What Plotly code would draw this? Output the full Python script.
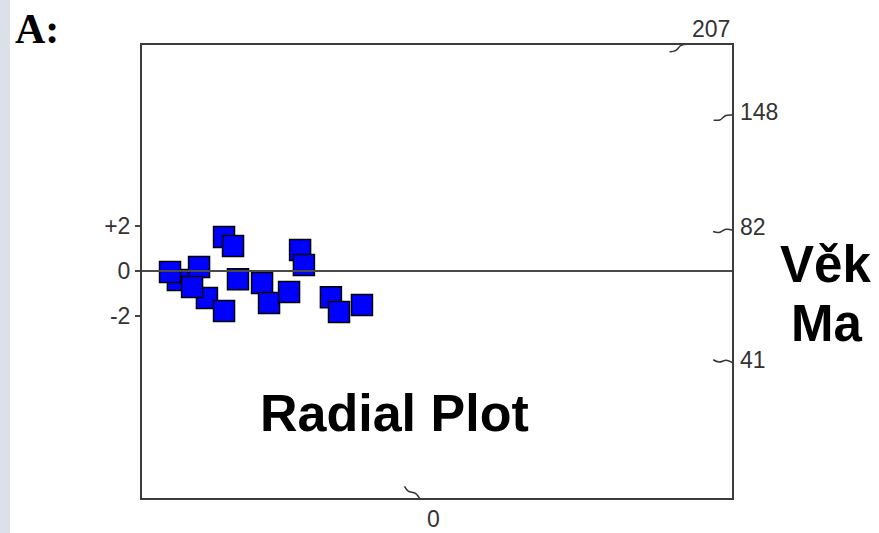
import numpy as np
import plotly.graph_objects as go

# Radial plot data: precision (x) and standardized estimate (y) of each grain
precision = [1.64, 1.29, 2.58, 2.93, 2.27, 3.69, 3.69, 4.09, 4.31,
             5.38, 5.69, 6.58, 7.07, 7.24, 8.44, 8.80, 9.82]
std_est = [-0.40, -0.04, 0.18, -1.20, -0.71, -1.78, 1.51, 1.11, -0.36,
           -0.53, -1.42, -0.93, 0.93, 0.27, -1.16, -1.82, -1.51]

# Age scale (Ma) along the border: label and slope of its radial line
age_labels = ["207", "148", "82", "41", "0"]
age_slopes = [0.415, 0.2635, 0.069, -0.155, -0.817]

# Standardized-estimate axis
y_ticks = [2, 0, -2]
y_ticktext = ["+2", "0", "-2"]

X_MAX = 26.31
Y_MIN, Y_MAX = -10.13, 10.09
W, H = 879, 533
ML, MR, MT, MB = 141, 146, 44, 34
PW, PH = W - ML - MR, H - MT - MB
PX = PW / X_MAX  # pixels per data unit
NUM_FONT = dict(family="Arial", size=23, color="#333333")

fig = go.Figure()

# radial age ticks where each line meets the frame
annotations = []
for lab, s in zip(age_labels, age_slopes):
    if Y_MIN <= s * X_MAX <= Y_MAX:
        ex, ey = X_MAX, s * X_MAX
        ann = dict(xanchor="left", yanchor="middle", xshift=5, yshift=3)
    elif s > 0:
        ex, ey = Y_MAX / s, Y_MAX
        ann = dict(xanchor="center", yanchor="middle", xshift=23, yshift=15)
    else:
        ex, ey = Y_MIN / s, Y_MIN
        ann = dict(xanchor="center", yanchor="middle", xshift=14, yshift=-20)
    n = np.hypot(1.0, s)
    ux, uy = -1.0 / n, -s / n
    px_, py_ = -uy, ux
    L = 20 / PX
    ts = [0.0, 0.35, 0.7, 1.0]
    ws = [0.0, -1.4 / PX, 1.4 / PX, 0.0]
    tx = [ex + ux * L * t + px_ * w for t, w in zip(ts, ws)]
    ty = [ey + uy * L * t + py_ * w for t, w in zip(ts, ws)]
    fig.add_trace(go.Scatter(x=tx, y=ty, mode="lines",
                             line=dict(color="#333333", width=1.5, shape="spline"),
                             hoverinfo="skip", showlegend=False, cliponaxis=False))
    annotations.append(dict(x=ex, y=ey, xref="x", yref="y", text=lab, showarrow=False,
                            font=NUM_FONT, **ann))

fig.add_trace(go.Scatter(
    x=precision, y=std_est, mode="markers",
    marker=dict(symbol="square", size=21, color="#0000ff",
                line=dict(color="#000000", width=1.5)),
    showlegend=False, cliponaxis=False))

shapes = [
    # grey strip along the left edge of the page
    dict(type="rect", xref="paper", yref="paper",
         x0=-ML / PW, x1=(10 - ML) / PW, y0=-MB / PH, y1=1 + MT / PH,
         fillcolor="#dbe1e6", line=dict(width=0), layer="below"),
    # zero line
    dict(type="line", xref="x", yref="y", x0=0, x1=X_MAX, y0=0, y1=0,
         line=dict(color="#4a4a4a", width=2)),
    # frame
    dict(type="rect", xref="paper", yref="paper", x0=0, x1=1, y0=0, y1=1,
         line=dict(color="#3c3c3c", width=2)),
]


def page_text(text, cx, cy, font):
    """Text centred on a page pixel position."""
    return dict(x=(cx - ML) / PW, y=(H - MB - cy) / PH, xref="paper", yref="paper",
                xanchor="center", yanchor="middle", text=text, showarrow=False,
                font=font)


annotations += [
    page_text("<b>A:</b>", 37, 29,
              dict(family="Liberation Serif", size=42, color="#000000")),
    page_text("<b>Radial Plot</b>", 394, 413,
              dict(family="Arial", size=52, color="#000000")),
    page_text("<b>Věk</b>", 825, 264,
              dict(family="Arial", size=51, color="#000000")),
    page_text("<b>Ma</b>", 826, 323,
              dict(family="Arial", size=51, color="#000000")),
]

fig.update_layout(
    width=W, height=H,
    margin=dict(l=ML, r=MR, t=MT, b=MB),
    paper_bgcolor="white", plot_bgcolor="white",
    xaxis=dict(range=[0, X_MAX], showgrid=False, zeroline=False,
               showticklabels=False, ticks="", showline=False, fixedrange=True),
    yaxis=dict(range=[Y_MIN, Y_MAX], showgrid=False, zeroline=False, showline=False,
               tickmode="array", tickvals=y_ticks, ticktext=y_ticktext,
               ticks="outside", ticklen=5, tickwidth=1.5, tickcolor="#444444",
               tickfont=NUM_FONT, fixedrange=True),
    shapes=shapes, annotations=annotations,
)

fig.write_html("out.html")
